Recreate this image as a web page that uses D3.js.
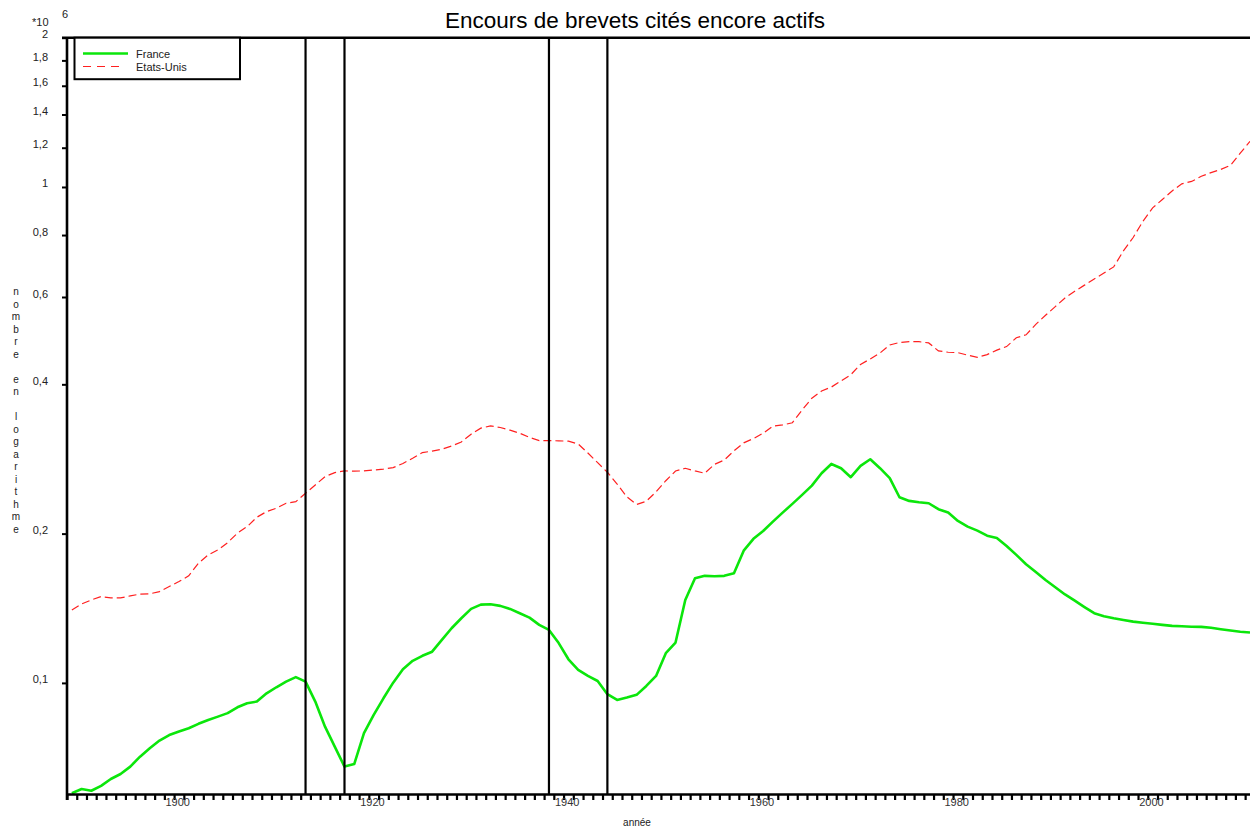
<!DOCTYPE html>
<html>
<head>
<meta charset="utf-8">
<script src="https://cdn.jsdelivr.net/npm/d3@7"></script>
<style>
  html, body { margin: 0; padding: 0; background: #fff; }
  svg { display: block; font-family: "Liberation Sans", Arial, sans-serif; }
</style>
</head>
<body>
<svg id="chart" width="1250" height="830"></svg>
<script>
// ---------------- DATA ----------------
const years = [1890,1891,1892,1893,1894,1895,1896,1897,1898,1899,
  1900,1901,1902,1903,1904,1905,1906,1907,1908,1909,
  1910,1911,1912,1913,1914,1915,1916,1917,1918,1919,
  1920,1921,1922,1923,1924,1925,1926,1927,1928,1929,
  1930,1931,1932,1933,1934,1935,1936,1937,1938,1939,
  1940,1941,1942,1943,1944,1945,1946,1947,1948,1949,
  1950,1951,1952,1953,1954,1955,1956,1957,1958,1959,
  1960,1961,1962,1963,1964,1965,1966,1967,1968,1969,
  1970,1971,1972,1973,1974,1975,1976,1977,1978,1979,
  1980,1981,1982,1983,1984,1985,1986,1987,1988,1989,
  1990,1991,1992,1993,1994,1995,1996,1997,1998,1999,
  2000,2001,2002,2003,2004,2005,2006,2007,2008,2009,
  2010,2011];

// values in millions (x10^6)
const france = [0.0599,0.0611,0.0606,0.0620,0.0640,0.0655,0.0678,0.0710,0.0738,0.0765,
  0.0785,0.0798,0.0810,0.0827,0.0842,0.0855,0.0869,0.0893,0.0910,0.0917,
  0.0953,0.0980,0.1006,0.1027,0.1006,0.0917,0.0816,0.0744,0.0678,0.0686,
  0.0792,0.0862,0.0931,0.1001,0.1066,0.1108,0.1134,0.1156,0.1221,0.1289,
  0.1350,0.1410,0.1438,0.1441,0.1430,0.1410,0.1382,0.1354,0.1309,0.1279,
  0.1203,0.1116,0.1062,0.1033,0.1009,0.0949,0.0924,0.0934,0.0946,0.0986,
  0.1033,0.1148,0.1206,0.1470,0.1626,0.1644,0.1641,0.1644,0.1664,0.1848,
  0.1952,0.2025,0.2115,0.2205,0.2296,0.2394,0.2499,0.2647,0.2764,0.2710,
  0.2599,0.2739,0.2825,0.2710,0.2587,0.2368,0.2328,0.2314,0.2303,0.2240,
  0.2205,0.2121,0.2066,0.2028,0.1981,0.1960,0.1888,0.1812,0.1735,0.1673,
  0.1612,0.1559,0.1508,0.1465,0.1422,0.1382,0.1363,0.1350,0.1339,0.1329,
  0.1322,0.1316,0.1309,0.1303,0.1301,0.1298,0.1297,0.1292,0.1283,0.1275,
  0.1268,0.1264];

const etatsUnis = [0.1403,0.1443,0.1470,0.1493,0.1484,0.1484,0.1498,0.1510,0.1512,0.1528,
  0.1564,0.1601,0.1644,0.1743,0.1812,0.1854,0.1918,0.2004,0.2066,0.2158,
  0.2215,0.2250,0.2303,0.2320,0.2413,0.2507,0.2606,0.2655,0.2676,0.2673,
  0.2676,0.2687,0.2699,0.2717,0.2770,0.2838,0.2914,0.2933,0.2959,0.3004,
  0.3060,0.3173,0.3264,0.3298,0.3273,0.3233,0.3188,0.3126,0.3080,0.3080,
  0.3077,0.3072,0.3032,0.2908,0.2780,0.2659,0.2518,0.2372,0.2289,0.2325,
  0.2428,0.2557,0.2675,0.2709,0.2676,0.2647,0.2759,0.2814,0.2938,0.3048,
  0.3109,0.3188,0.3296,0.3313,0.3347,0.3550,0.3750,0.3878,0.3949,0.4064,
  0.4183,0.4388,0.4501,0.4626,0.4803,0.4857,0.4877,0.4875,0.4848,0.4671,
  0.4643,0.4634,0.4581,0.4535,0.4592,0.4689,0.4766,0.4965,0.5034,0.5285,
  0.5511,0.5738,0.5974,0.6163,0.6340,0.6525,0.6706,0.6899,0.7431,0.7909,
  0.8525,0.9076,0.9438,0.9818,1.0147,1.0261,1.0510,1.0690,1.0850,1.1060,
  1.1700,1.2360];

const warYears = [1914, 1918, 1939, 1945];
const xLabelYears = [1900, 1920, 1940, 1960, 1980, 2000];
const yTickValues = [0.1, 0.2, 0.4, 0.6, 0.8, 1, 1.2, 1.4, 1.6, 1.8, 2];
const seriesNames = ["France", "Etats-Unis"];
const titleText = "Encours de brevets cités encore actifs";
const xTitle = "année";
const yTitle = "nombre en logarithme";

// ---------------- LAYOUT ----------------
const svg = d3.select("#chart");
const pLeft = 67, pRight = 1250, pTop = 37.7, pBottom = 794;

const x = d3.scaleLinear().domain([1889.5, 2011]).range([pLeft, pRight]);
const y = d3.scaleLog().domain([0.0597, 2]).range([pBottom, pTop]);

const GREEN = "#0be60b";
const RED = "#ff2020";

svg.append("defs").append("clipPath").attr("id", "plotclip")
  .append("rect").attr("x", pLeft).attr("y", pTop - 2).attr("width", pRight - pLeft + 2).attr("height", pBottom - pTop + 2);

svg.append("text").attr("x", 635).attr("y", 28).attr("text-anchor", "middle")
  .attr("font-size", 22.5).attr("fill", "#000").text(titleText);

// ---------------- LINES ----------------
const rows = years.map((yr, i) => ({ yr, fr: france[i], us: etatsUnis[i] }));

const plot = svg.append("g").attr("clip-path", "url(#plotclip)");

plot.append("path").datum(rows)
  .attr("fill", "none").attr("stroke", RED).attr("stroke-width", 1.2)
  .attr("stroke-dasharray", "8,4")
  .attr("d", d3.line().x(d => x(d.yr)).y(d => y(d.us)));

plot.append("path").datum(rows)
  .attr("fill", "none").attr("stroke", GREEN).attr("stroke-width", 2.6)
  .attr("stroke-linejoin", "round")
  .attr("d", d3.line().x(d => x(d.yr)).y(d => y(d.fr)));

svg.append("g").selectAll("line").data(warYears).join("line")
  .attr("x1", d => x(d)).attr("x2", d => x(d))
  .attr("y1", pTop).attr("y2", pBottom)
  .attr("stroke", "#000").attr("stroke-width", 2.2);

// ---------------- AXES ----------------
const tickYears = d3.range(1889.5, 2011, 1);
const xAxis = svg.append("g").attr("transform", `translate(0,${pBottom})`)
  .call(d3.axisBottom(x).tickValues(tickYears).tickSize(6).tickSizeOuter(0).tickFormat(""));
xAxis.select(".domain").attr("stroke", "#000").attr("stroke-width", 2.4);
xAxis.selectAll(".tick line").attr("stroke", "#000").attr("stroke-width", 2.2);

const xLab = svg.append("g").attr("transform", `translate(0,${pBottom})`)
  .call(d3.axisBottom(x).tickValues(xLabelYears).tickSize(0).tickPadding(0).tickFormat(d3.format("d")));
xLab.select(".domain").remove();
xLab.selectAll(".tick text").attr("dx", 8).attr("y", 12).attr("dy", 0)
  .attr("font-size", 11).attr("fill", "#333").attr("font-family", "Liberation Sans, Arial, sans-serif");

const yAxis = svg.append("g").attr("transform", `translate(${pLeft},0)`)
  .call(d3.axisLeft(y).tickValues(yTickValues).tickSize(5).tickPadding(14).tickSizeOuter(0)
    .tickFormat(d => String(d).replace(".", ",")));
yAxis.select(".domain").attr("stroke", "#000").attr("stroke-width", 2.6)
  .attr("d", `M0,${pBottom + 6}V${pTop}`);
yAxis.selectAll(".tick line").attr("stroke", "#000").attr("stroke-width", 2);
yAxis.selectAll(".tick text").attr("dy", 0).attr("font-size", 11).attr("fill", "#222")
  .attr("font-family", "Liberation Sans, Arial, sans-serif");

svg.append("line").attr("x1", pLeft - 5).attr("x2", pRight).attr("y1", pTop).attr("y2", pTop)
  .attr("stroke", "#000").attr("stroke-width", 2.4);

svg.append("text").attr("x", 32).attr("y", 26).attr("font-size", 11).attr("fill", "#222").text("*10");
svg.append("text").attr("x", 62).attr("y", 18).attr("font-size", 11).attr("fill", "#222").text("6");

svg.append("text").attr("x", 637).attr("y", 826).attr("text-anchor", "middle")
  .attr("font-size", 10).attr("fill", "#222").text(xTitle);

const yt = svg.append("text").attr("font-size", 10).attr("fill", "#222").attr("text-anchor", "middle");
Array.from(yTitle).forEach((c, i) => {
  yt.append("tspan").attr("x", 16).attr("y", 295 + i * 12.5).text(c === " " ? "\u00a0" : c);
});

// ---------------- LEGEND ----------------
const lg = svg.append("g");
lg.append("rect").attr("x", 74.5).attr("y", pTop).attr("width", 165.5).attr("height", 41.5)
  .attr("fill", "#fff").attr("stroke", "#000").attr("stroke-width", 2);
lg.append("line").attr("x1", 83).attr("x2", 128).attr("y1", 53.5).attr("y2", 53.5)
  .attr("stroke", GREEN).attr("stroke-width", 2.6);
lg.append("line").attr("x1", 83).attr("x2", 124).attr("y1", 66.5).attr("y2", 66.5)
  .attr("stroke", RED).attr("stroke-width", 1.2).attr("stroke-dasharray", "8,6");
lg.append("text").attr("x", 136).attr("y", 58).attr("font-size", 11).attr("fill", "#222").text(seriesNames[0]);
lg.append("text").attr("x", 136).attr("y", 71).attr("font-size", 11).attr("fill", "#222").text(seriesNames[1]);
</script>
</body>
</html>
